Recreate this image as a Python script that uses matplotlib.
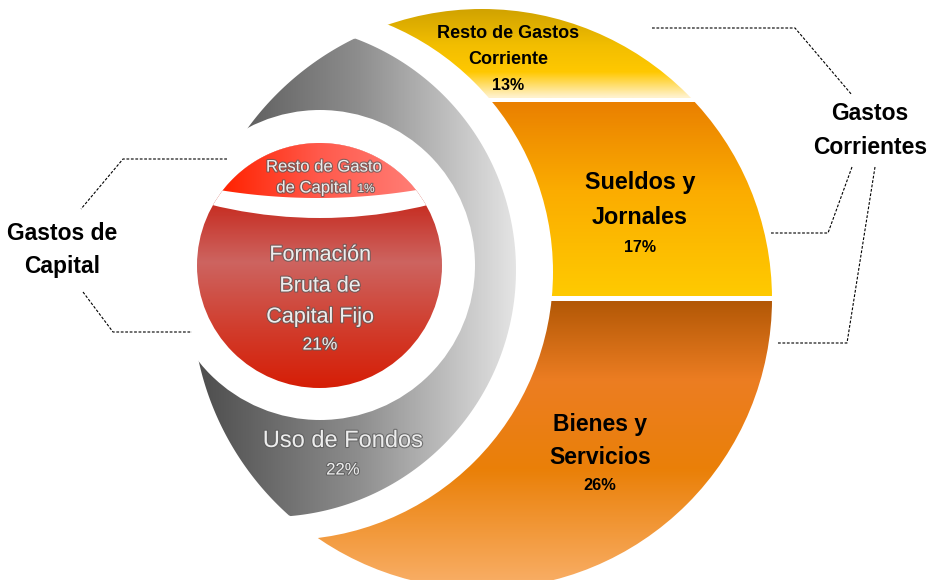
import numpy as np
import matplotlib
matplotlib.use("Agg")
import matplotlib.pyplot as plt
from matplotlib.patches import Circle, Polygon
from matplotlib.colors import LinearSegmentedColormap
import matplotlib.patheffects as pe

# ---------------- data ----------------
corr_labels = [["Resto de Gastos", "Corriente"], ["Sueldos y", "Jornales"], ["Bienes y", "Servicios"]]
corr_pct = [13, 17, 26]
cap_labels = [["Resto de Gasto", "de Capital"], ["Formación", "Bruta de", "Capital Fijo"], ["Uso de Fondos"]]
cap_pct = [1, 21, 22]
group_labels = [["Gastos de", "Capital"], ["Gastos", "Corrientes"]]

# ---------------- layout (pixel space) ----------------
W, H = 938, 580
BIG = ((482, 299), 290)        # outer disc
CUT = ((285, 272), 268)        # white disc carving the orange crescent
GREY = ((269, 270), 247)       # grey disc
RING = ((320, 265), 155)       # white ring around red disc
RED = ((319.5, 265.5), 122.5)  # red disc
CAPD = ((318, -414), 612)      # disc defining red cap
BANDD = ((320, -237), 455)     # white band inside red disc

fig = plt.figure(figsize=(W / 100, H / 100), dpi=100)
ax = fig.add_axes([0, 0, 1, 1])
ax.set_xlim(0, W)
ax.set_ylim(H, 0)
ax.axis("off")


def circ_pts(c, r, n=1440):
    t = np.linspace(0, 2 * np.pi, n, endpoint=False)
    return np.column_stack([c[0] + r * np.cos(t), c[1] + r * np.sin(t)])


def inter_patch(d1, d2):
    (c1, r1), (c2, r2) = d1, d2
    p1 = circ_pts(c1, r1)
    p2 = circ_pts(c2, r2)
    a = p1[np.hypot(p1[:, 0] - c2[0], p1[:, 1] - c2[1]) <= r2]
    b = p2[np.hypot(p2[:, 0] - c1[0], p2[:, 1] - c1[1]) <= r1]
    pts = np.vstack([a, b])
    cen = pts.mean(axis=0)
    order = np.argsort(np.arctan2(pts[:, 1] - cen[1], pts[:, 0] - cen[0]))
    return Polygon(pts[order], closed=True, transform=ax.transData, fc="none", ec="none")


def disc_patch(d):
    return Circle(d[0], d[1], transform=ax.transData, fc="none", ec="none")


def gradient(stops, x0, x1, y0, y1, clip, vertical=True, z=1):
    pos = [s[0] for s in stops]
    lo, hi = min(pos), max(pos)
    cmap = LinearSegmentedColormap.from_list(
        "g", [((p - lo) / (hi - lo), c) for p, c in stops])
    if vertical:
        ys = np.linspace(y0, y1, 400)
        v = np.clip((ys - lo) / (hi - lo), 0, 1)[:, None]
    else:
        xs = np.linspace(x0, x1, 400)
        v = np.clip((xs - lo) / (hi - lo), 0, 1)[None, :]
    im = ax.imshow(v, cmap=cmap, vmin=0, vmax=1, extent=(x0, x1, y1, y0),
                   origin="upper", aspect="auto", interpolation="bilinear", zorder=z)
    ax.add_patch(clip)
    im.set_clip_path(clip)
    return im


# ---------------- orange / yellow crescent ----------------
big_clip = lambda: disc_patch(BIG)
gradient([(8, "#D0A200"), (45, "#F2BE00"), (72, "#FFC800"), (97, "#FFF2CC")],
         180, 780, 0, 98, big_clip(), z=1)
gradient([(102, "#EA8000"), (190, "#FBAC00"), (296, "#FFCA00")],
         180, 780, 102, 296, big_clip(), z=1)
gradient([(301, "#B35806"), (380, "#EC7D22"), (470, "#EA8008"), (580, "#F8AC62")],
         180, 780, 301, 580, big_clip(), z=1)
ax.add_patch(Circle(CUT[0], CUT[1], fc="white", ec="none", zorder=2))

# ---------------- grey crescent ----------------
gradient([(205, "#505050"), (360, "#8E8E8E"), (520, "#E6E6E6")],
         190, 530, 20, 530, inter_patch(BIG, GREY), vertical=False, z=3)
ax.add_patch(Circle(RING[0], RING[1], fc="white", ec="none", zorder=4))

# ---------------- red disc ----------------
red_clip = disc_patch(RED)
gradient([(200, "#C62A1E"), (262, "#CD6460"), (330, "#D13C2C"), (388, "#D61E06")],
         190, 450, 140, 392, red_clip, z=5)
wband = Circle(BANDD[0], BANDD[1], fc="white", ec="none", zorder=6)
ax.add_patch(wband)
wband.set_clip_path(disc_patch(RED))
gradient([(222, "#FF2200"), (320, "#FF5A4C"), (413, "#FF7C74")],
         190, 450, 140, 200, inter_patch(RED, CAPD), vertical=False, z=7)

# ---------------- texts ----------------
BOLD = dict(family="Liberation Sans", weight="bold", color="black",
            ha="center", va="center", zorder=10)
LIGHT = dict(family="Liberation Sans", color="#EDEDED", ha="center", va="center", zorder=10,
             path_effects=[pe.withStroke(linewidth=1.6, foreground="#5A5A5A", alpha=0.75)])

# current expenses
corr_pos = [(508, [33, 60], 85, 13, 11.5), (640, [183, 217], 247, 16.8, 11.5),
            (600, [425, 458], 486, 16.5, 11.8)]
for lab, pct, (x, ys, yp, fs, fsp) in zip(corr_labels, corr_pct, corr_pos):
    for line, y in zip(lab, ys):
        ax.text(x, y, line, fontsize=fs, **BOLD)
    ax.text(x, yp, f"{pct}%", fontsize=fsp, **BOLD)

# capital expenses
ax.text(324, 167, cap_labels[0][0], fontsize=12, **LIGHT)
ax.text(314, 188, cap_labels[0][1], fontsize=12, **LIGHT)
ax.text(366, 189, f"{cap_pct[0]}%", fontsize=8.5, **LIGHT)
for line, y in zip(cap_labels[1], [255, 286, 317]):
    ax.text(320, y, line, fontsize=15.5, **LIGHT)
ax.text(320, 345, f"{cap_pct[1]}%", fontsize=12.5, **LIGHT)
ax.text(343, 441, cap_labels[2][0], fontsize=17, **LIGHT)
ax.text(343, 470, f"{cap_pct[2]}%", fontsize=12, **LIGHT)

# group labels
for line, y in zip(group_labels[0], [233, 267]):
    ax.text(62, y, line, fontsize=16.5, **BOLD)
for line, y in zip(group_labels[1], [113, 147]):
    ax.text(870, y, line, fontsize=16.5, **BOLD)

# bracket connectors
DASH = dict(color="black", lw=0.8, ls=(0, (2.5, 1.5)), zorder=9)
brackets = [
    ([227, 123, 81], [159, 159, 209]),
    ([83, 113, 192], [292, 332, 332]),
    ([652, 795, 852], [28, 28, 95]),
    ([852, 828, 770], [167, 233, 233]),
    ([875, 847, 777], [167, 343, 343]),
]
for xs, ys in brackets:
    ax.plot(xs, ys, **DASH)

fig.savefig("out.png", dpi=100, facecolor="white")
